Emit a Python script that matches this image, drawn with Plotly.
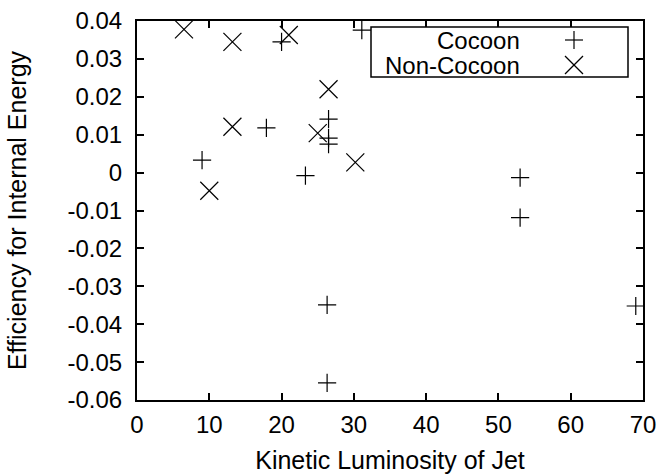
import plotly.graph_objects as go

# Data
cocoon_x = [9.0, 17.9, 20.0, 23.3, 26.5, 26.5, 26.5, 31.1, 26.3, 26.3, 53.0, 53.0, 69.0]
cocoon_y = [0.0033, 0.0118, 0.0345, -0.0008, 0.0141, 0.0091, 0.0075, 0.0376, -0.0349, -0.0555, -0.0013, -0.0119, -0.0352]

noncocoon_x = [6.5, 13.2, 21.0, 26.5, 13.2, 25.0, 30.2, 10.0]
noncocoon_y = [0.0378, 0.0345, 0.0363, 0.0220, 0.0121, 0.0104, 0.0027, -0.0048]

x_ticks = [0, 10, 20, 30, 40, 50, 60, 70]
y_ticks = [0.04, 0.03, 0.02, 0.01, 0, -0.01, -0.02, -0.03, -0.04, -0.05, -0.06]
y_ticktext = ["0.04", "0.03", "0.02", "0.01", "0", "-0.01", "-0.02", "-0.03", "-0.04", "-0.05", "-0.06"]
series_names = ["Cocoon", "Non-Cocoon"]

FONT = "Liberation Sans, Arial, Helvetica, sans-serif"

fig = go.Figure()
fig.add_trace(go.Scatter(
    x=cocoon_x, y=cocoon_y, mode="markers", name=series_names[0],
    marker=dict(symbol="cross-thin", size=13, color="black",
                line=dict(color="black", width=1.2)),
    showlegend=False, cliponaxis=False))
fig.add_trace(go.Scatter(
    x=noncocoon_x, y=noncocoon_y, mode="markers", name=series_names[1],
    marker=dict(symbol="x-thin", size=18, color="black",
                line=dict(color="black", width=1.2)),
    showlegend=False, cliponaxis=False))

W, H = 662, 474
L, R, T, B = 137, 19, 21, 74
pw, ph = W - L - R, H - T - B

def px2paper(px, py):
    return (px - L) / pw, (H - B - py) / ph

shapes = []
# legend box
x0, y0 = px2paper(371, 27)
x1, y1 = px2paper(628, 77)
shapes.append(dict(type="rect", xref="paper", yref="paper", x0=x0, x1=x1, y0=y1, y1=y0,
                   line=dict(color="black", width=1.5), fillcolor="white", layer="above"))
annotations = []
rows = [40, 65]
for i, name in enumerate(series_names):
    tx, ty = px2paper(521, rows[i])
    annotations.append(dict(xref="paper", yref="paper", x=tx, y=ty, text=name,
                            showarrow=False, xanchor="right", yanchor="middle",
                            height=24, valign="middle", borderpad=0,
                            font=dict(family=FONT, size=24, color="black")))
# legend symbols (pixel-sized shapes anchored at paper position)
sx, sy = px2paper(574, rows[0])
shapes.append(dict(type="line", xref="paper", yref="paper", xsizemode="pixel", ysizemode="pixel",
                   xanchor=sx, yanchor=sy, x0=-9, x1=9, y0=0, y1=0, line=dict(color="black", width=1.2)))
shapes.append(dict(type="line", xref="paper", yref="paper", xsizemode="pixel", ysizemode="pixel",
                   xanchor=sx, yanchor=sy, x0=0, x1=0, y0=-9, y1=9, line=dict(color="black", width=1.2)))
sx, sy = px2paper(574, rows[1])
shapes.append(dict(type="line", xref="paper", yref="paper", xsizemode="pixel", ysizemode="pixel",
                   xanchor=sx, yanchor=sy, x0=-9, x1=9, y0=-9, y1=9, line=dict(color="black", width=1.2)))
shapes.append(dict(type="line", xref="paper", yref="paper", xsizemode="pixel", ysizemode="pixel",
                   xanchor=sx, yanchor=sy, x0=-9, x1=9, y0=9, y1=-9, line=dict(color="black", width=1.2)))

axis_common = dict(showgrid=False, zeroline=False, showline=True, linecolor="black", linewidth=2,
                   mirror="ticks", ticks="inside", ticklen=7, tickwidth=1.5, tickcolor="black",
                   automargin=False,
                   tickfont=dict(family=FONT, size=24, color="black"))

fig.update_layout(
    width=W, height=H,
    margin=dict(l=L, r=R, t=T, b=B),
    paper_bgcolor="white", plot_bgcolor="white",
    font=dict(family=FONT, color="black"),
    xaxis=dict(range=[0, 70], tickvals=x_ticks, ticktext=[str(v) for v in x_ticks],
               title=dict(text="Kinetic Luminosity of Jet", font=dict(family=FONT, size=25), standoff=16),
               ticklabelstandoff=2, **axis_common),
    yaxis=dict(range=[-0.06, 0.04], tickvals=y_ticks, ticktext=y_ticktext,
               title=dict(text="Efficiency for Internal Energy", font=dict(family=FONT, size=25), standoff=34),
               ticklabelstandoff=8, **axis_common),
    shapes=shapes, annotations=annotations,
)

fig.write_html("out.html")
